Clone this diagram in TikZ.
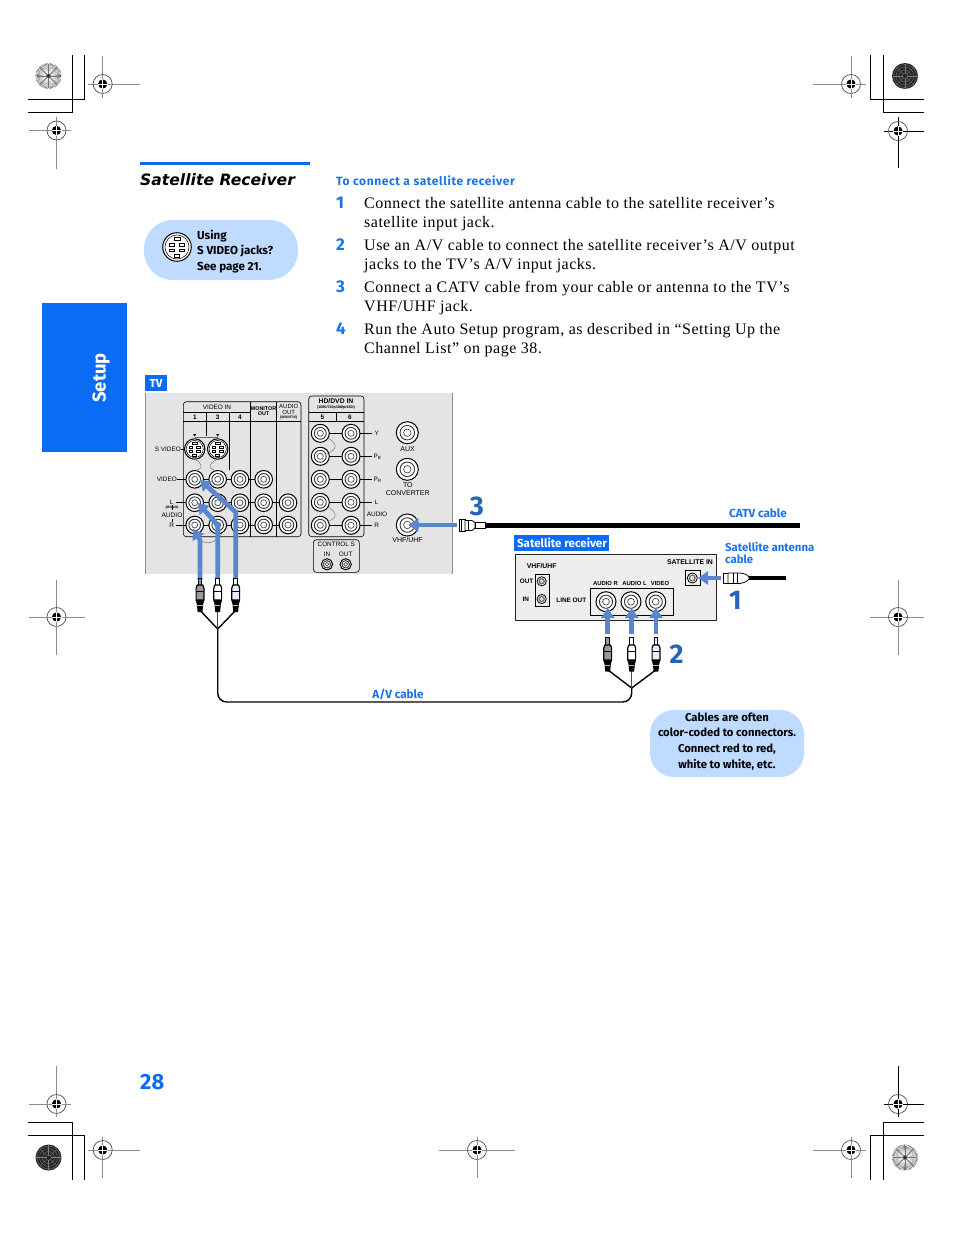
\documentclass[tikz,border=0pt]{standalone}
\usepackage{fontspec}
\usetikzlibrary{arrows.meta,calc}
\setmainfont{Liberation Serif}
\newfontfamily\lab{Fira Sans}
\newfontfamily\head{DejaVu Sans}
\newfontfamily\pan{Liberation Sans}
\definecolor{pageblue}{HTML}{0A6CF5}
\definecolor{labelblue}{HTML}{1A73E8}
\definecolor{numblue}{HTML}{2463B8}
\definecolor{arrowblue}{HTML}{5B86CF}
\definecolor{bubble}{HTML}{BFDBFF}
\definecolor{panelgray}{HTML}{E4E4E4}
\definecolor{recgray}{HTML}{EEEEEE}
\definecolor{markgray}{HTML}{8C8C8C}
\tikzset{
  x=1pt,y=-1pt,
  crop/.style={line width=1pt,black},
  body/.style={anchor=base west,inner sep=0pt,font=\fontsize{16}{18}\selectfont\addfontfeatures{LetterSpace=3.2}},
  num/.style={anchor=base west,inner sep=0pt,text=labelblue,font=\lab\bfseries\fontsize{17}{18}\selectfont},
  bluelab/.style={inner sep=0pt,text=labelblue,font=\lab\bfseries\fontsize{11.7}{12}\selectfont},
  tag/.style={inner sep=0pt,text=white,font=\lab\bfseries\fontsize{11.6}{12}\selectfont},
  bub/.style={inner sep=0pt,font=\lab\bfseries\fontsize{11.6}{15.6}\selectfont},
  bubs/.style={inner sep=0pt,font=\lab\bfseries\fontsize{11.3}{15.6}\selectfont},
  pl/.style={inner sep=0pt,font=\pan\fontsize{6.4}{7}\selectfont},
  plb/.style={inner sep=0pt,font=\pan\bfseries\fontsize{6.4}{7}\selectfont},
  plr/.style={inner sep=0pt,font=\pan\bfseries\fontsize{6.9}{7}\selectfont},
  pla/.style={inner sep=0pt,font=\pan\bfseries\fontsize{5.9}{7}\selectfont},
  bignum/.style={inner sep=0pt,text=numblue,font=\lab\bfseries\fontsize{27}{27}\selectfont},
  thinl/.style={line width=.6pt,black},
  link/.style={line width=.4pt,black!60},
  bigarrow/.style={line width=4.7pt,arrowblue,line join=round,-{Triangle[width=13pt,length=10pt]}},
  cable/.style={line width=1.4pt,black,line join=round},
}
\newcommand{\regmark}[7]{% x y left right up down colour
  \draw[line width=.8pt,#7] (#1-#3,#2)--(#1+#4,#2) (#1,#2-#5)--(#1,#2+#6);
  \draw[line width=.7pt,black!70,fill=white] (#1,#2) circle (9.5);
  \fill[black] (#1,#2) circle (4.6);
  \draw[line width=.9pt,white] (#1-4.6,#2)--(#1+4.6,#2) (#1,#2-4.6)--(#1,#2+4.6);
  \draw[line width=.8pt,#7] (#1-9.5,#2)--(#1-5,#2) (#1+5,#2)--(#1+9.5,#2) (#1,#2-9.5)--(#1,#2-5) (#1,#2+5)--(#1,#2+9.5);
}
\newcommand{\burst}[2]{%
  \fill[black!62] (#1,#2) circle (13);
  \foreach \a in {0,6,...,354} {\draw[line width=.5pt,white] ($(#1,#2)+(\a:2.5)$)--($(#1,#2)+(\a:13)$);}
  \foreach \a in {0,45,...,315} {\draw[line width=.9pt,black!55] ($(#1,#2)+(\a:2)$)--($(#1,#2)+(\a:12)$);}
  \fill[black!85] (#1,#2) circle (1.6);
}
\newcommand{\darkdisc}[2]{%
  \fill[black!85] (#1,#2) circle (13);
  \foreach \r in {3,6,9,11.5} {\draw[line width=.3pt,black!50] (#1,#2) circle (\r);}
  \foreach \a in {0,45,...,315} {\draw[line width=.3pt,black!50] ($(#1,#2)+(\a:2)$)--($(#1,#2)+(\a:12.5)$);}
}
\newcommand{\jack}[3]{% x y r
  \draw[line width=1pt,black,fill=white] (#1,#2) circle (#3);
  \draw[line width=.9pt,black!80] (#1,#2) circle (0.66*#3);
  \draw[line width=.7pt,black!70] (#1,#2) circle (0.34*#3);
}
\newcommand{\coax}[3]{%
  \draw[line width=.8pt,black,fill=white] (#1,#2) circle (#3);
  \fill[black!55] (#1,#2) circle (0.72*#3);
  \fill[white] (#1,#2) circle (0.4*#3);
  \fill[black!60] (#1,#2) circle (0.12*#3);
}
\newcommand{\svideo}[3]{% x y scale
  \begin{scope}[shift={(#1,#2)},scale=#3]
    \draw[line width=1pt,black,fill=white] (0,0) circle (10.2);
    \draw[line width=.5pt,black] (0,0) circle (8.6);
    \draw[line width=.7pt] (-2.2,-7) rectangle (2.2,-5);
    \foreach \p/\q in {-5.4/-2.4,2/-2.4,-5.4/1.4,2/1.4} {\draw[line width=.7pt] (\p,\q) rectangle (\p+3.4,\q+2);}
    \draw[line width=.7pt] (-2,5) -- (2,5) -- (2,7.4) -- (-2,7.4) -- cycle;
  \end{scope}
}
\newcommand{\rcaplug}[6]{% x ytip ybody ybot ytail fill
  \draw[line width=.9pt,black,fill=#6] (#1-1.9,#2+.5) rectangle (#1+1.9,#3);
  \draw[line width=1.2pt,black,fill=#6,line join=round] (#1-2.8,#3) -- (#1+2.8,#3) -- (#1+3.9,#3+3) -- (#1+3.9,#4) -- (#1-3.9,#4) -- (#1-3.9,#3+3) -- cycle;
  \draw[line width=.6pt,black] (#1-3.9,#3+6)--(#1+3.9,#3+6);
  \fill[black] (#1-4.4,#4) -- (#1+4.4,#4) -- (#1+3.2,#4+4) -- (#1+2.4,#5) -- (#1-2.4,#5) -- (#1-3.2,#4+4) -- cycle;
  \draw[line width=.6pt,white!75!black] (#1-2.6,#4+5)--(#1+2.6,#4+5);
}
\begin{document}
\begin{tikzpicture}
\useasboundingbox (0,0) rectangle (954,1235);
\fill[white] (0,0) rectangle (954,1235);
% ---- printer's marks
\draw[crop] (72,55)--(72,112)--(28,112) (84.5,55)--(84.5,99)--(28,99);
\draw[crop] (870,55)--(870,99)--(924,99) (883.5,55)--(883.5,112)--(924,112);
\draw[crop] (72,1180)--(72,1122)--(28,1122) (84.5,1180)--(84.5,1135)--(28,1135);
\draw[crop] (870,1180)--(870,1135)--(924,1135) (883.5,1180)--(883.5,1122)--(924,1122);
\regmark{102.7}{84}{15}{37}{28}{14}{markgray}
\regmark{56.5}{130.5}{28}{14}{14}{38}{markgray}
\regmark{851}{84}{38}{15}{28}{14}{markgray}
\regmark{898}{131}{14}{26}{14}{37}{black}
\regmark{56.5}{1104}{28}{14}{38}{13}{markgray}
\regmark{102.7}{1150}{15}{37}{13}{28}{markgray}
\regmark{898}{1104}{14}{26}{38}{13}{black}
\regmark{851}{1150}{38}{15}{13}{28}{markgray}
\regmark{477}{1150}{38}{38}{13}{28}{markgray}
\regmark{56.5}{617}{28}{28}{37}{38}{markgray}
\regmark{898}{617}{28}{26}{37}{38}{markgray}
\burst{48.5}{76}
\darkdisc{905}{76}
\darkdisc{48.5}{1157.5}
\burst{905}{1157.5}
% ---- sidebar and heading
\fill[pageblue] (42,303) rectangle (127,452);
\node[rotate=90,inner sep=0pt,text=white,font=\lab\bfseries\fontsize{18.5}{19}\selectfont] (setup) at (101,378) {Setup};
\fill[pageblue] (140,162) rectangle (310,165);
\node[anchor=base west,inner sep=0pt,font=\head\bfseries\itshape\fontsize{15.6}{16}\selectfont] (title) at (140,185) {Satellite Receiver};
\fill[bubble,rounded corners=29] (144,220) rectangle (298,280);
\svideo{177}{247}{1.4}
\node[bub,anchor=base west] (sv1) at (197,239) {Using};
\node[bub,anchor=base west] (sv2) at (197,254) {S VIDEO jacks?};
\node[bub,anchor=base west] (sv3) at (197,270) {See page 21.};
% ---- steps
\node[bluelab,anchor=base west,font=\lab\bfseries\fontsize{12}{12}\selectfont\addfontfeatures{LetterSpace=5}] (steph) at (336,185) {To connect a satellite receiver};
\node[num] (n1) at (336,208) {1};
\node[num] (n2) at (336,250) {2};
\node[num] (n3) at (336,292) {3};
\node[num] (n4) at (336,334) {4};
\node[body] (s1a) at (364,208) {Connect the satellite antenna cable to the satellite receiver’s};
\node[body] (s1b) at (364,227) {satellite input jack.};
\node[body] (s2a) at (364,250) {Use an A/V cable to connect the satellite receiver’s A/V output};
\node[body] (s2b) at (364,269) {jacks to the TV’s A/V input jacks.};
\node[body] (s3a) at (364,292) {Connect a CATV cable from your cable or antenna to the TV’s};
\node[body] (s3b) at (364,311) {VHF/UHF jack.};
\node[body] (s4a) at (364,334) {Run the Auto Setup program, as described in “Setting Up the};
\node[body] (s4b) at (364,353) {Channel List” on page 38.};
% ---- TV panel
\fill[pageblue] (145,375) rectangle (167,391);
\node[tag] (tvtag) at (156,383) {TV};
\fill[panelgray] (145,393) rectangle (452,574);
\draw[line width=.7pt,black!45] (145,393)--(145,574) (452,393)--(452,574);
% video block
\draw[thinl,rounded corners=3] (183.3,401.7) rectangle (301,536.7);
\draw[thinl] (183.3,412)--(250.3,412) (183.3,421.5)--(301,421.5);
\draw[thinl] (206.5,412)--(206.5,436) (229.3,412)--(229.3,470) (250.6,401.7)--(250.6,536.7) (276.5,401.7)--(276.5,536.7);
\draw[link] (194.7,436.7)--(217.7,436.7);
\node[pl] (vin) at (217,406.9) {VIDEO IN};
\node[plb] at (195,416.9) {1};
\node[plb] at (217.7,416.9) {3};
\node[plb] at (240,416.9) {4};
\node[plb,font=\pan\bfseries\fontsize{5.4}{5.6}\selectfont,align=center] (mon) at (263.5,411) {MONITOR\\OUT};
\node[pl,font=\pan\fontsize{6}{6}\selectfont,align=center] (aud) at (288.7,409) {AUDIO\\OUT};
\node[plb,font=\pan\bfseries\fontsize{3.6}{4}\selectfont] at (288.7,418) {(WAV/FIX)};
\foreach \x in {194.7,217.7} {\fill[black] (\x-1.5,434)--(\x+1.5,434)--(\x,436.5)--cycle;}
\draw[thinl] (180.7,449)--(185,449) (177,479.3)--(186,479.3) (176,502.7)--(186,502.7) (176,525)--(186,525) (172,505)--(172,510) (172,519)--(172,522);
\draw[thinl] (194,479.3)--(264,479.3) (194,502.7)--(288,502.7) (194,525)--(288,525);
\svideo{194.7}{449}{1}
\svideo{217.7}{449}{1}
\draw[link] (194.7,459) .. controls (203,464) and (203,468) .. (197,470);
\draw[link] (217.7,459) .. controls (208,464) and (208,468) .. (214,470);
\draw[link] (200,540) .. controls (208,545) and (214,544) .. (223,532);
\foreach \x in {194.7,217.7,240,263.7} {\jack{\x}{479.3}{8.8}}
\foreach \x in {194.7,217.7,240,263.7,288} {\jack{\x}{502.7}{8.8} \jack{\x}{525}{8.8}}
\node[pl,anchor=east] (lsv) at (181,449) {S VIDEO};
\node[pl,anchor=east] (lvi) at (177,479.3) {VIDEO};
\node[pl] (ll) at (171.7,502) {L};
\node[plb,font=\pan\bfseries\fontsize{3.4}{4}\selectfont] at (172,507.2) {(MONO)};
\node[pl,font=\pan\fontsize{6.6}{7}\selectfont] (la) at (172,515) {AUDIO};
\node[pl] (lr) at (171.7,525) {R};
% hd block
\draw[thinl,rounded corners=3] (308.7,396) rectangle (364,536.7);
\draw[thinl] (308.7,412.3)--(364,412.3) (308.7,421.7)--(364,421.7) (336.7,412.3)--(336.7,421.7);
\node[plb,font=\pan\bfseries\fontsize{6.8}{7}\selectfont] (hd) at (336,401.2) {HD/DVD IN};
\node[plb,font=\pan\bfseries\fontsize{3.7}{4}\selectfont] at (336,407.8) {(1080/720p/480p/480i)};
\node[plb] at (322.3,417) {5};
\node[plb] at (350,417) {6};
\foreach \y in {433.3,456.3,479.3,502.3,525.3} {
  \draw[thinl] (320,\y)--(372,\y);
  \jack{320.3}{\y}{9}
  \jack{351}{\y}{9}
}
\draw[link] (327,437) .. controls (338,445) and (338,448) .. (327,454);
\draw[link] (327,506) .. controls (338,514) and (338,517) .. (327,522);
\node[pl] at (376.7,433.3) {Y};
\node[pl] at (377.5,456.3) {P\textsubscript{B}};
\node[pl] at (377.5,479.3) {P\textsubscript{R}};
\node[pl] at (376.7,502.3) {L};
\node[pl] (ha) at (377,514) {AUDIO};
\node[pl] at (376.7,525.3) {R};
% control s
\draw[thinl,fill=panelgray,rounded corners=3] (313.3,539.7) rectangle (359.3,572.3);
\node[pl] (cs) at (336.3,544.7) {CONTROL S};
\node[pl] at (327,553.8) {IN};
\node[pl] at (345.7,553.8) {OUT};
\jack{327}{564.3}{5.6}
\jack{345.7}{564.3}{5.6}
% right jacks
\jack{407.3}{432.7}{11}
\node[pl,font=\pan\fontsize{7}{7}\selectfont] (aux) at (407.6,448.7) {AUX};
\jack{407.3}{469.3}{11}
\node[pl,font=\pan\fontsize{7}{7.6}\selectfont,align=center] (conv) at (407.8,489.2) {TO\\CONVERTER};
\jack{407.3}{525}{11}
\node[pl,font=\pan\fontsize{7}{7}\selectfont] (vhf) at (407.6,540) {VHF/UHF};
% ---- TV arrows
\coordinate (a1s) at (200,580); \coordinate (a1m) at (200,540); \coordinate (a1e) at (193,529);
\coordinate (a2s) at (217.7,578); \coordinate (a2m) at (217.7,525); \coordinate (a2e) at (198,503);
\coordinate (a3s) at (235.7,578); \coordinate (a3m) at (235.7,512); \coordinate (a3e) at (200,480);
\draw[bigarrow] (a1s)--(a1m)--(a1e);
\draw[bigarrow] (a2s)--(a2m)--(a2e);
\draw[bigarrow] (a3s)--(a3m)--(a3e);
\coordinate (vs) at (456.7,525); \coordinate (ve) at (408.3,525);
\draw[bigarrow] (vs)--(ve);
% ---- plugs and A/V cable
\coordinate (lj) at (217.7,629); \coordinate (rj) at (631.7,688);
\draw[cable] (200.7,611)--(lj) (235,611)--(lj);
\draw[line width=1.1pt,black!75] (217.7,611)--(217.7,629);
\draw[cable,rounded corners=9] (lj)--(217.7,702)--(631.7,702)--(rj);
\draw[cable] (608,670)--(rj) (655.7,670)--(rj);
\draw[line width=1.3pt,black!70] (631.7,670)--(rj);
\rcaplug{200}{578}{585}{600}{612}{black!40}
\rcaplug{217.7}{578}{585}{600}{612}{white}
\rcaplug{235.7}{578}{585}{600}{612}{blue!8}
\rcaplug{607.7}{636.7}{645}{660}{671.5}{black!40}
\rcaplug{631.7}{636.7}{645}{660}{671.5}{white}
\rcaplug{656}{636.7}{645}{660}{671.5}{blue!8}
\node[bluelab] (avl) at (398,694) {A/V cable};
% ---- CATV cable
\draw[line width=5pt,black] (484,525.3)--(800,525.3);
\draw[line width=.8pt,fill=white] (459.5,519.5) rectangle (465,531);
\draw[line width=.8pt,fill=white] (465,520.5) -- (472,520.5) .. controls (474,521) .. (475,522.5) -- (475,528) .. controls (474,530) .. (472,530.5) -- (465,530.5) -- cycle;
\draw[line width=.8pt,fill=white] (475,522.5) rectangle (485,528);
\draw[line width=.6pt] (461.5,519.5)--(461.5,531) (468,520.5)--(468,530.5);
\node[bignum] (b3) at (477,506) {3};
\node[bluelab,anchor=base west] (catv) at (729,517.5) {CATV cable};
% ---- receiver
\fill[pageblue] (514,535) rectangle (609,551);
\node[tag] (rectag) at (562,543) {Satellite receiver};
\draw[line width=.9pt,black!85,fill=recgray] (515,554.3) rectangle (716.7,620.7);
\node[plr] (rv) at (541.7,566) {VHF/UHF};
\node[plb,anchor=east] (rout) at (533.5,581.3) {OUT};
\node[plb] (rin) at (525.7,599) {IN};
\draw[thinl] (535.7,574.3) rectangle (549.7,606.3);
\coax{541.7}{581.3}{4.6}
\coax{541.7}{599}{4.6}
\node[plb] (lo) at (571.3,600) {LINE OUT};
\draw[thinl] (590.3,588.3) rectangle (673.7,615.7);
\jack{606}{601.7}{10}
\jack{631}{601.7}{10}
\jack{655.7}{601.7}{10}
\node[pla] (ar) at (605.5,583) {AUDIO R};
\node[pla] (al) at (634.5,583) {AUDIO L};
\node[pla] (vl) at (660,583) {VIDEO};
\node[plr] (si) at (690,562.3) {SATELLITE IN};
\draw[thinl] (685,570) rectangle (700.7,585.7);
\coax{692.3}{578}{5}
\coordinate (r1s) at (607.7,634); \coordinate (r1e) at (607.7,608);
\coordinate (r2s) at (631.7,634); \coordinate (r2e) at (631.7,608);
\coordinate (r3s) at (656,634); \coordinate (r3e) at (656,608);
\draw[bigarrow] (r1s)--(r1e);
\draw[bigarrow] (r2s)--(r2e);
\draw[bigarrow] (r3s)--(r3e);
\coordinate (sats) at (721,578); \coordinate (sate) at (698,578);
\draw[bigarrow] (sats)--(sate);
\draw[line width=3.6pt,black] (748,578)--(786,578);
\draw[line width=.8pt,fill=white] (723.5,573) rectangle (728,583.5);
\draw[line width=.8pt,fill=white] (728,573) -- (740,573) .. controls (746,574) .. (749,577) -- (749,579) .. controls (746,582) .. (740,583.5) -- (728,583.5) -- cycle;
\draw[line width=.6pt] (733,573)--(733,583.5) (737,573)--(737,583.5);
\node[bignum] (b1) at (735.5,600) {1};
\node[bignum] (b2) at (676.5,654) {2};
\node[bluelab,anchor=base west,font=\lab\bfseries\fontsize{11.4}{12}\selectfont] (sa1) at (725,551) {Satellite antenna};
\node[bluelab,anchor=base west,font=\lab\bfseries\fontsize{11.4}{12}\selectfont] (sa2) at (725,563) {cable};
% ---- note bubble
\fill[bubble,rounded corners=24] (650,710) rectangle (804,777);
\node[bubs,anchor=base] (c1) at (727,721) {Cables are often};
\node[bubs,anchor=base] (c2) at (727,736) {color-coded to connectors.};
\node[bubs,anchor=base] (c3) at (727,752) {Connect red to red,};
\node[bubs,anchor=base] (c4) at (727,768) {white to white, etc.};
% ---- page number
\node[anchor=base west,inner sep=0pt,text=pageblue,font=\lab\bfseries\fontsize{22}{22}\selectfont] (pg) at (140,1089) {28};
\end{tikzpicture}
\end{document}
